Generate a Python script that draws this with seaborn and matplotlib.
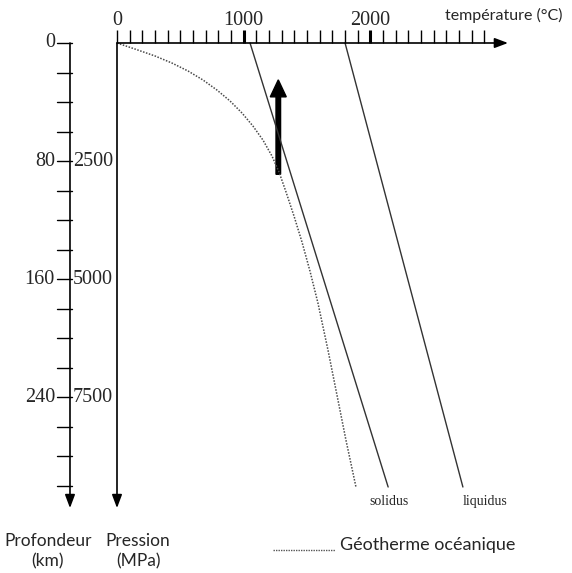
import numpy as np
import pandas as pd
import matplotlib
matplotlib.use("Agg")
import matplotlib.pyplot as plt
import seaborn as sns

# geotherme oceanique (temperature en °C, profondeur en km)
geo_temp = [0, 142, 300, 434, 561, 679, 789, 892, 987, 1073, 1152, 1223, 1279,
            1334, 1397, 1460, 1523, 1586, 1665, 1736, 1807, 1886]
geo_prof = [0, 4.1, 8.8, 13.6, 19.0, 25.1, 31.9, 39.3, 47.5, 56.3, 65.8, 76.6, 87.5,
            101.0, 117.3, 134.9, 154.6, 176.3, 208.1, 238.6, 269.2, 301]

# solidus / liquidus (droites)
sol_temp = [1050, 2140]
sol_prof = [0, 301]
liq_temp = [1800, 2730]
liq_prof = [0, 301]

# graduations
temp_ticks = list(range(0, 3000, 100))
temp_labels = [0, 1000, 2000]
prof_ticks = list(range(0, 320, 20))
prof_labels = [0, 80, 160, 240]
pres_labels = [2500, 5000, 7500]  # MPa, alignees sur 80/160/240 km

# fleche (remontee)
fleche_temp = 1273
fleche_prof = [89, 25]

sns.set_style("white")
serif = "Liberation Serif"
sans = "Lato"

fig = plt.figure(figsize=(5.72, 5.73), dpi=100)
ax = fig.add_axes([0, 0, 1, 1])
ax.set_xlim(-923.4, 3591.1)
ax.set_ylim(359.3, -29.15)
ax.axis("off")

df_geo = pd.DataFrame({"temp": geo_temp, "prof": geo_prof})
df_sol = pd.DataFrame({"temp": sol_temp, "prof": sol_prof})
df_liq = pd.DataFrame({"temp": liq_temp, "prof": liq_prof})

sns.lineplot(data=df_geo, x="temp", y="prof", sort=False, estimator=None, ax=ax,
             color="#4a4a4a", lw=1.1, linestyle=(0, (1, 1)))
sns.lineplot(data=df_sol, x="temp", y="prof", sort=False, estimator=None, ax=ax,
             color="#333333", lw=1.0)
sns.lineplot(data=df_liq, x="temp", y="prof", sort=False, estimator=None, ax=ax,
             color="#333333", lw=1.0)

# axe des temperatures (en haut)
ax.annotate("", xy=(3086, 0), xytext=(0, 0),
            arrowprops=dict(arrowstyle="-|>,head_width=0.3,head_length=0.8",
                            color="black", lw=1.2, shrinkA=0, shrinkB=0))
for t in temp_ticks:
    lw = 2.2 if t in (1000, 2000) else 1.0
    ax.plot([t, t], [0, -8.8], color="black", lw=lw, solid_capstyle="butt")
for t in temp_labels:
    ax.text(t, -15.5, str(t), ha="center", va="center", fontsize=14.5, family=serif)
ax.text(3050, -19, "température (°C)", ha="center", va="center", fontsize=11.5, family=sans)

# axe des pressions
ax.annotate("", xy=(0, 315.3), xytext=(0, 0),
            arrowprops=dict(arrowstyle="-|>,head_width=0.3,head_length=0.8",
                            color="black", lw=1.2, shrinkA=0, shrinkB=0))
for p, d in zip(pres_labels, prof_labels[1:]):
    ax.text(-347, d, str(p), ha="left", va="center", fontsize=14.5, family=serif)

# axe des profondeurs
xp = -371
ax.annotate("", xy=(xp, 315.3), xytext=(xp, 0),
            arrowprops=dict(arrowstyle="-|>,head_width=0.3,head_length=0.8",
                            color="black", lw=1.2, shrinkA=0, shrinkB=0))
for d in prof_ticks:
    ax.plot([xp - 103, xp + 16], [d, d], color="black", lw=1.0)
for d in prof_labels:
    ax.text(-490, d, str(d), ha="right", va="center", fontsize=14.5, family=serif)

# fleche epaisse
ax.arrow(fleche_temp, fleche_prof[0], 0, fleche_prof[1] - fleche_prof[0],
         width=36, head_width=126, head_length=11.5, length_includes_head=True,
         color="black")

# etiquettes
ax.text(2147, 311, "solidus", ha="center", va="center", fontsize=10, family=serif)
ax.text(2905, 311, "liquidus", ha="center", va="center", fontsize=10, family=serif)
ax.text(-545, 344.5, "Profondeur\n(km)", ha="center", va="center", fontsize=12.5,
        family=sans, linespacing=1.35)
ax.text(166, 344.5, "Pression\n(MPa)", ha="center", va="center", fontsize=12.5,
        family=sans, linespacing=1.35)

# legende
ax.plot([1231, 1721], [344, 344], color="#555555", lw=1.0, linestyle=(0, (1, 0.8)))
ax.text(1760, 340.5, "Géotherme océanique", ha="left", va="center", fontsize=13, family=sans)

fig.savefig("out.png", dpi=100)
